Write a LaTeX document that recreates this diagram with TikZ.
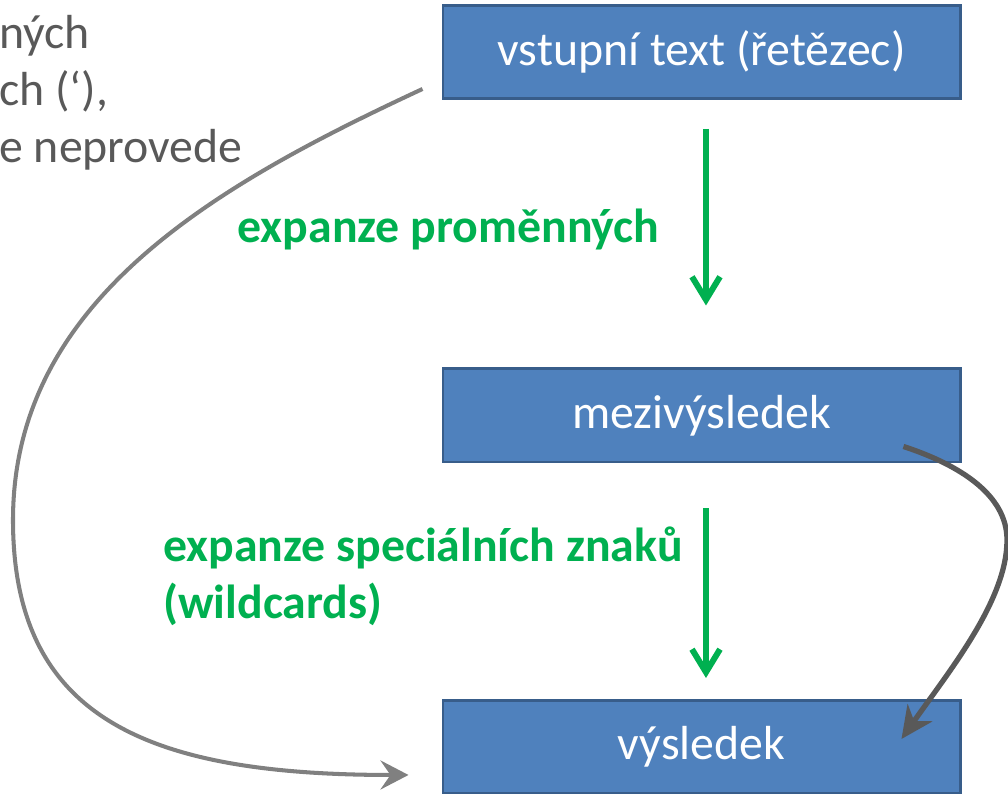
\documentclass[tikz,border=0pt]{standalone}
\usepackage{fontspec}
\setmainfont{Carlito}
\usetikzlibrary{arrows.meta,calc}
\definecolor{boxblue}{HTML}{4F81BD}
\definecolor{boxedge}{HTML}{385D8A}
\definecolor{expgreen}{HTML}{00B050}
\definecolor{textgray}{HTML}{595959}
\definecolor{curvegray}{HTML}{808080}
\begin{document}
\begin{tikzpicture}[scale=0.2]
\tikzstyle{every node}+=[inner sep=0pt]
\tikzstyle{box}=[draw=boxedge, line width=1.7pt, fill=boxblue, text=white, minimum width=10.34cm, minimum height=1.86cm, font=\fontsize{27.2}{32}\selectfont]
\tikzstyle{label}=[text=expgreen, font=\fontsize{27.2}{32.3}\selectfont\bfseries]
\tikzstyle{green arrow}=[draw=expgreen, line width=3.4pt, -{Straight Barb[length=0.46cm, width=0.56cm]}]
\useasboundingbox (0,0) rectangle (100.8,-79.4);

\draw (70.15,-5.2) node[box] (vstup) {vstupní text (řetězec)};

\draw (70.15,-41.55) node[box] (mezi) {mezivýsledek};

\draw (70.15,-74.7) node[box] (vysl) {výsledek};

\draw (66.0,-22.9) node[label, anchor=east] (prom) {expanze proměnných};

\draw (16.3,-57.6) node[label, anchor=west, align=left] (spec) {expanze speciálních znaků\\(wildcards)};

\draw (-0.1,-1.5) node[anchor=north west, align=left, text=textgray, font=\fontsize{27.2}{32.3}\selectfont] (pozn) {ných\\ch (‘),\\e neprovede};
\draw [green arrow, shorten <=0.58cm, shorten >=1.24cm] ($(vstup.south)+(0.45,0)$) -- ($(mezi.north)+(0.45,0)$);
\draw [green arrow, shorten <=0.9cm, shorten >=0.42cm] ($(mezi.south)+(0.45,0)$) -- ($(vysl.north)+(0.45,0)$);
\draw [curvegray, line width=2.3pt, -{Stealth[length=0.56cm, width=0.58cm, inset=0.2cm]}] ($(vstup.south west)+(-1.9,1.1)$) .. controls (21.6,-18.5) and (1.3,-30.0) .. (1.3,-52.0) .. controls (1.3,-72.0) and (15.0,-77.5) .. ($(vysl.west)+(-3.3,-2.8)$);
\draw [textgray, line width=3pt, -{Stealth[length=0.64cm, width=0.6cm, inset=0.2cm]}] ($(mezi.south east)+(-5.8,1.7)$) .. controls (96.0,-46.5) and (100.7,-49.5) .. (100.7,-54.0) .. controls (100.7,-60.0) and (95.0,-67.0) .. ($(vysl.north east)+(-6.0,-4.0)$);
\end{tikzpicture}
\end{document}
